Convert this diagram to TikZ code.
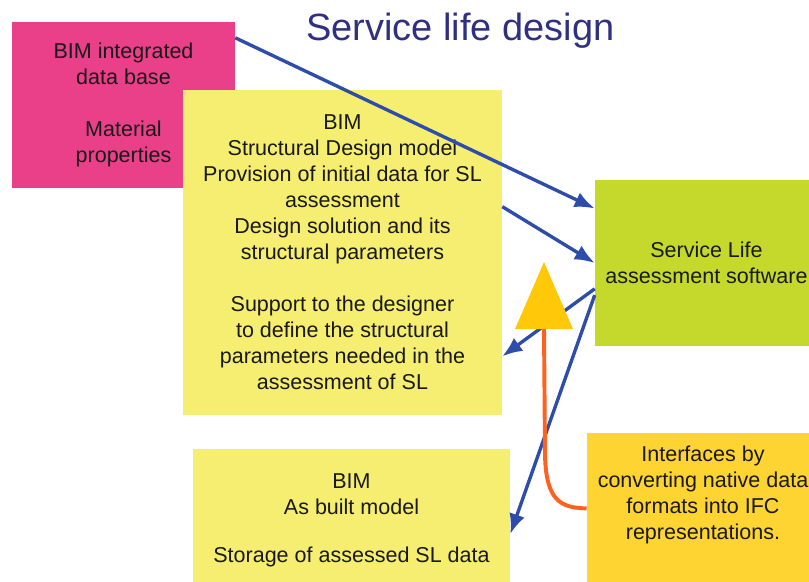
\documentclass[tikz,border=0pt]{standalone}
\usepackage{fontspec}
\setmainfont{Liberation Sans}
\usetikzlibrary{arrows.meta}

\definecolor{pinkbox}{RGB}{233,64,137}
\definecolor{yellowbox}{RGB}{245,238,112}
\definecolor{greenbox}{RGB}{197,217,44}
\definecolor{orangebox}{RGB}{253,212,50}
\definecolor{trianglefill}{RGB}{255,201,10}
\definecolor{bluearrow}{RGB}{46,76,170}
\definecolor{orangeline}{RGB}{255,98,32}
\definecolor{titleblue}{RGB}{48,48,130}

\begin{document}
\begin{tikzpicture}[x=0.025cm, y=-0.025cm,
    box/.style={inner sep=0pt, align=center, text=black!90, font=\fontsize{15.3}{18.5}\selectfont},
    link/.style={bluearrow, line width=2.4pt, arrows=-{Latex[length=5mm,width=4mm]}}]
          \useasboundingbox (0,0) rectangle (809,581);

          \node [font=\fontsize{27}{32}\selectfont, text=titleblue, anchor=base] (title) at (460.5,40) {Service life design};

          \node [box, fill=pinkbox, minimum width=5.575cm, minimum height=4.15cm] (dbase) at (123.5,105) {BIM integrated\\data base\\[0.66cm]Material\\properties}; % data base
          \node [box, fill=yellowbox, minimum width=7.975cm, minimum height=8.125cm] (design) at (342.5,252.5) {BIM\\Structural Design model\\Provision of initial data for SL\\assessment\\Design solution and its\\structural parameters\\[0.65cm]Support to the designer\\to define the structural\\parameters needed in the\\assessment of SL}; % design model
          \node [box, fill=greenbox, minimum width=5.575cm, minimum height=4.15cm] (slsoft) at (706.5,263) {Service Life\\assessment software}; % software
          \node [box, fill=yellowbox, minimum width=7.925cm, minimum height=3.55cm] (asbuilt) at (351.5,520) {BIM\\As built model\\[0.55cm]Storage of assessed SL data}; % as built
          \node [fill=orangebox, inner sep=0pt, minimum width=5.8cm, minimum height=4.175cm] (ifc) at (703,516.5) {};
          \node [box] (ifctext) at (703,495) {Interfaces by\\converting native data\\formats into IFC\\representations.};

          \draw [link] (dbase.31) -- (slsoft.154);
          \draw [link] (design.16) -- (slsoft.west);
          \draw [link] (slsoft.193) -- (design.-33);
          \draw [link] (slsoft.196) -- (asbuilt.-5);

          \coordinate (tribase) at (544,329);
          \draw [orangeline, line width=2.8pt] (ifc.176) .. controls (560,508) and (546,500) .. (545,455) -- (tribase);
          \fill [trianglefill] (544,262) -- (573,329) -- (515,329) -- cycle; % Draws the triangle
        \end{tikzpicture}
\end{document}
